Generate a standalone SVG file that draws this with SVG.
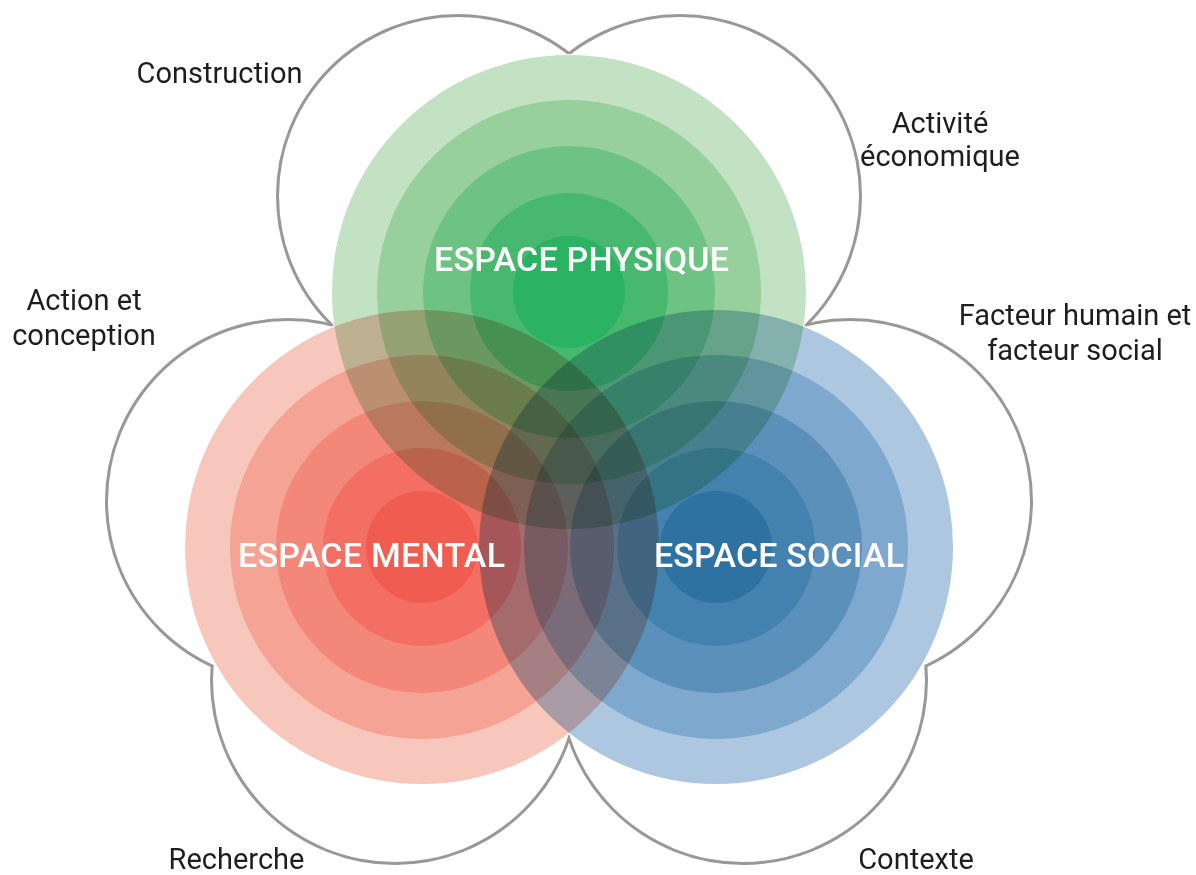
<svg xmlns="http://www.w3.org/2000/svg" width="1196" height="875" viewBox="0 0 1196 875">
<style>
.lobe-line{fill:none;stroke:#989898;stroke-width:6}
.lobe-fill{fill:#ffffff}
.backing{fill:#ffffff}
.set{mix-blend-mode:multiply}
.label{font-family:Roboto,"Liberation Sans",sans-serif;font-size:29px;fill:#1e1e1e;text-anchor:middle}
.title{font-family:Roboto,"Liberation Sans",sans-serif;font-size:34px;font-weight:500;fill:#ffffff;text-anchor:middle}
</style>
<rect width="1196" height="875" fill="#ffffff"/>
<g id="petals">
  <g id="petal-outlines">
    <circle id="lobe-construction-line" class="lobe-line" cx="458" cy="196" r="179"/>
    <circle id="lobe-activite-line" class="lobe-line" cx="680" cy="196" r="179"/>
    <circle id="lobe-facteur-line" class="lobe-line" cx="850" cy="501" r="180"/>
    <circle id="lobe-contexte-line" class="lobe-line" cx="743" cy="680" r="182"/>
    <circle id="lobe-recherche-line" class="lobe-line" cx="395" cy="680" r="182"/>
    <circle id="lobe-action-line" class="lobe-line" cx="288" cy="501" r="180"/>
  </g>
  <g id="petal-fills">
    <circle class="lobe-fill" cx="458" cy="196" r="179"/>
    <circle class="lobe-fill" cx="680" cy="196" r="179"/>
    <circle class="lobe-fill" cx="850" cy="501" r="180"/>
    <circle class="lobe-fill" cx="743" cy="680" r="182"/>
    <circle class="lobe-fill" cx="395" cy="680" r="182"/>
    <circle class="lobe-fill" cx="288" cy="501" r="180"/>
  </g>
</g>
<g id="backing">
  <circle class="backing" cx="569" cy="292" r="238"/>
  <circle class="backing" cx="422" cy="547" r="238"/>
  <circle class="backing" cx="716" cy="547" r="238"/>
</g>
<g id="espace-physique" class="set">
  <circle cx="569" cy="292" r="237" fill="#c3e2c4"/>
  <circle cx="569" cy="292" r="192" fill="#98d09d"/>
  <circle cx="569" cy="292" r="146" fill="#6ec283"/>
  <circle cx="569" cy="292" r="99" fill="#48b86e"/>
  <circle cx="569" cy="292" r="56" fill="#2bb262"/>
</g>
<g id="espace-mental" class="set">
  <circle cx="422" cy="547" r="237" fill="#f8c7bb"/>
  <circle cx="422" cy="547" r="192" fill="#f5a394"/>
  <circle cx="422" cy="547" r="146" fill="#f3887a"/>
  <circle cx="422" cy="547" r="99" fill="#f36e63"/>
  <circle cx="422" cy="547" r="56" fill="#f05c50"/>
</g>
<g id="espace-social" class="set">
  <circle cx="716" cy="547" r="237" fill="#adc7e1"/>
  <circle cx="716" cy="547" r="192" fill="#7ea8cd"/>
  <circle cx="716" cy="547" r="146" fill="#5b90bb"/>
  <circle cx="716" cy="547" r="99" fill="#4381ae"/>
  <circle cx="716" cy="547" r="56" fill="#2e72a2"/>
</g>
<g id="titles">
  <text id="title-physique" class="title" x="581.5" y="271" textLength="295">ESPACE PHYSIQUE</text>
  <text id="title-mental" class="title" x="371.5" y="567" textLength="267">ESPACE MENTAL</text>
  <text id="title-social" class="title" x="779" y="567" textLength="250">ESPACE SOCIAL</text>
</g>
<g id="labels">
  <text id="label-construction" class="label" x="219.5" y="83">Construction</text>
  <text id="label-activite" class="label"><tspan x="940" y="133">Activité</tspan><tspan x="940" y="166">économique</tspan></text>
  <text id="label-action" class="label"><tspan x="84" y="310">Action et</tspan><tspan x="84" y="345">conception</tspan></text>
  <text id="label-facteur" class="label"><tspan x="1075" y="325">Facteur humain et</tspan><tspan x="1075" y="360">facteur social</tspan></text>
  <text id="label-recherche" class="label" x="236.5" y="869">Recherche</text>
  <text id="label-contexte" class="label" x="916" y="869">Contexte</text>
</g>
</svg>
